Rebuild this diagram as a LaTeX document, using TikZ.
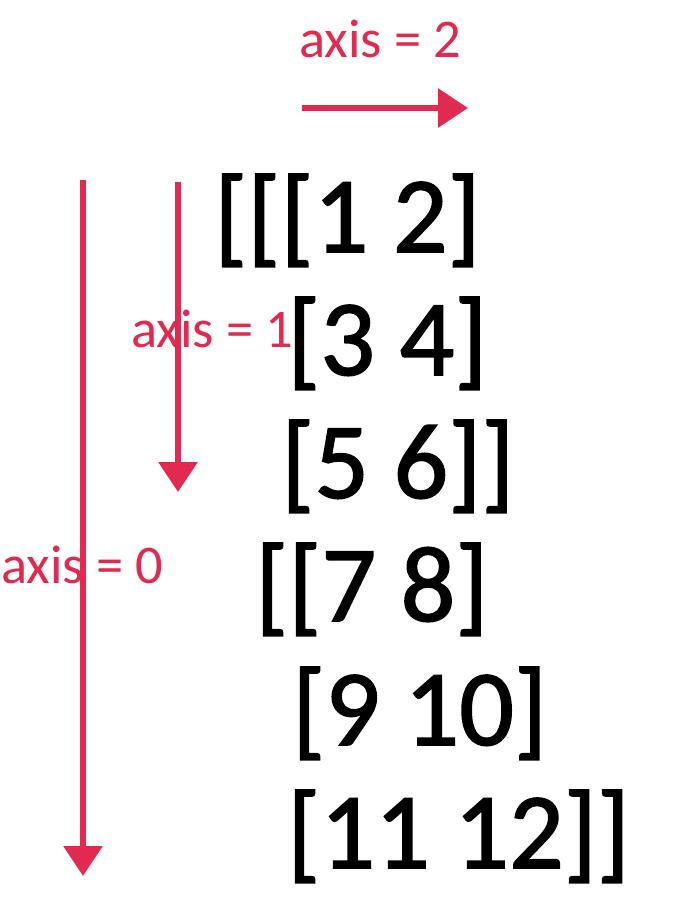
\documentclass[tikz,border=0pt]{standalone}
\usepackage{fontspec}
\setmainfont{Carlito}
\newfontfamily\heavyrow[FakeBold=1.5]{Carlito}
\usetikzlibrary{arrows.meta}
\definecolor{axred}{HTML}{E2294F}
\begin{document}
\begin{tikzpicture}[x=1pt,y=-1pt,
  arr/.style={draw=axred,line width=6pt,-{Triangle[width=38pt,length=30pt]}},
  lab/.style={text=axred,font=\fontsize{54.5}{54.5}\selectfont,anchor=base west,inner sep=0pt},
  row/.style={font=\heavyrow\fontsize{108}{108}\selectfont,anchor=base west,inner sep=0pt}]
\useasboundingbox (0,0) rectangle (682,906);
\node[row] (r1) at (214,252) {[[[1 2]};
\node[row] (r2) at (287,375) {[3 4]};
\node[row] (r3) at (281,498) {[5 6]]};
\node[row] (r4) at (255,621) {[[7 8]};
\node[row] (r5) at (292,745) {[9 10]};
\node[row] (r6) at (287,868) {[11 12]]};
\coordinate (a2s) at (302,108);
\coordinate (a2e) at (468,108);
\coordinate (a1s) at (178,182);
\coordinate (a1e) at (178,492);
\coordinate (a0s) at (83,180);
\coordinate (a0e) at (83,876);
\draw[arr] (a2s) -- (a2e);
\draw[arr] (a1s) -- (a1e);
\draw[arr] (a0s) -- (a0e);
\node[lab] (l2) at (299,57) {axis = 2};
\node[lab] (l1) at (131,347) {axis = 1};
\node[lab] (l0) at (1,583) {axis = 0};
\end{tikzpicture}
\end{document}
